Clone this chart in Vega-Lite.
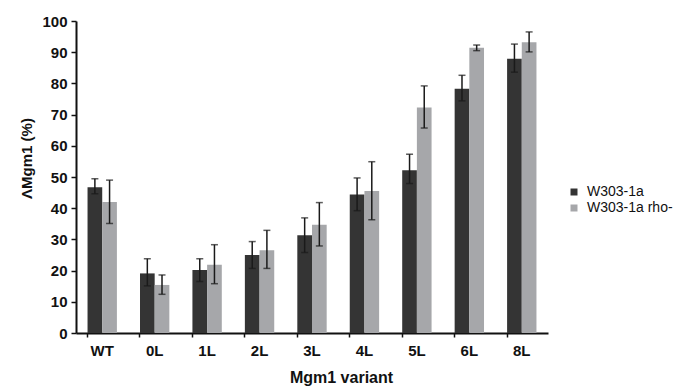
{
  "$schema": "https://vega.github.io/schema/vega-lite/v6.json",
  "width": 472,
  "height": 312,
  "autosize": "none",
  "padding": {"left": 76, "top": 21, "right": 128, "bottom": 55},
  "background": "white",
  "config": {
    "view": {"stroke": null},
    "font": "Liberation Sans",
    "axisY": {"tickCount": 10, "labelOverlap": false}
  },
  "data": {"values": [
    {"variant": "WT", "strain": "W303-1a", "value": 46.7, "lo": 44.6, "hi": 49.4},
    {"variant": "WT", "strain": "W303-1a rho-", "value": 42.0, "lo": 35.1, "hi": 49.0},
    {"variant": "0L", "strain": "W303-1a", "value": 19.1, "lo": 15.1, "hi": 23.8},
    {"variant": "0L", "strain": "W303-1a rho-", "value": 15.4, "lo": 12.4, "hi": 18.6},
    {"variant": "1L", "strain": "W303-1a", "value": 20.2, "lo": 16.5, "hi": 23.8},
    {"variant": "1L", "strain": "W303-1a rho-", "value": 21.9, "lo": 15.8, "hi": 28.3},
    {"variant": "2L", "strain": "W303-1a", "value": 25.0, "lo": 20.7, "hi": 29.3},
    {"variant": "2L", "strain": "W303-1a rho-", "value": 26.5, "lo": 20.7, "hi": 32.9},
    {"variant": "3L", "strain": "W303-1a", "value": 31.3, "lo": 25.8, "hi": 36.9},
    {"variant": "3L", "strain": "W303-1a rho-", "value": 34.7, "lo": 27.9, "hi": 41.8},
    {"variant": "4L", "strain": "W303-1a", "value": 44.4, "lo": 39.2, "hi": 49.7},
    {"variant": "4L", "strain": "W303-1a rho-", "value": 45.5, "lo": 36.3, "hi": 54.9},
    {"variant": "5L", "strain": "W303-1a", "value": 52.2, "lo": 47.9, "hi": 57.3},
    {"variant": "5L", "strain": "W303-1a rho-", "value": 72.3, "lo": 65.7, "hi": 79.2},
    {"variant": "6L", "strain": "W303-1a", "value": 78.3, "lo": 74.4, "hi": 82.6},
    {"variant": "6L", "strain": "W303-1a rho-", "value": 91.4, "lo": 90.5, "hi": 92.3},
    {"variant": "8L", "strain": "W303-1a", "value": 87.9, "lo": 83.6, "hi": 92.6},
    {"variant": "8L", "strain": "W303-1a rho-", "value": 93.2, "lo": 90.1, "hi": 96.5}
  ]},
  "encoding": {
    "x": {
      "field": "variant", "type": "nominal", "sort": null,
      "scale": {"paddingInner": 0.44, "paddingOuter": 0.22},
      "axis": {
        "title": "Mgm1 variant", "titleFont": "Liberation Sans", "titleFontSize": 16, "titleFontWeight": "bold",
        "titleColor": "#111111", "titlePadding": 11, "titleX": 265,
        "labelAngle": 0, "labelFont": "Liberation Sans", "labelFontSize": 15, "labelFontWeight": "bold",
        "labelColor": "#111111", "labelPadding": 6,
        "domainColor": "#111111", "domainWidth": 2,
        "ticks": true, "bandPosition": 0, "tickColor": "#111111", "tickSize": 4, "tickWidth": 1.5
      }
    },
    "xOffset": {"field": "strain", "type": "nominal"}
  },
  "layer": [
    {
      "mark": {"type": "bar"},
      "encoding": {
        "y": {
          "field": "value", "type": "quantitative",
          "scale": {"domain": [0, 100], "nice": false},
          "axis": {
            "title": "ΛMgm1 (%)", "titleFont": "Liberation Sans", "titleFontSize": 15, "titleFontWeight": "bold",
            "titleColor": "#111111", "titlePadding": 7, "titleY": 137,
            "labelFont": "Liberation Sans", "labelFontSize": 15, "labelFontWeight": "bold", "labelColor": "#111111",
            "labelPadding": 4, "grid": false,
            "domainColor": "#111111", "domainWidth": 2,
            "tickColor": "#111111", "tickSize": 5, "tickWidth": 1.5
          }
        },
        "color": {
          "field": "strain", "type": "nominal",
          "scale": {"domain": ["W303-1a", "W303-1a rho-"], "range": ["#343434", "#a6a7aa"]},
          "legend": {
            "title": null, "orient": "none", "legendX": 491, "legendY": 164,
            "symbolType": "square", "symbolSize": 49, "symbolStrokeWidth": 0,
            "labelFont": "Liberation Sans", "labelFontSize": 14, "labelColor": "#111111",
            "rowPadding": 2, "labelOffset": 6
          }
        }
      }
    },
    {
      "mark": {"type": "rule", "color": "#1a1a1a", "strokeWidth": 1.5},
      "encoding": {
        "y": {"field": "lo", "type": "quantitative"},
        "y2": {"field": "hi"}
      }
    },
    {
      "mark": {"type": "tick", "color": "#1a1a1a", "thickness": 1.5, "size": 7, "orient": "horizontal"},
      "encoding": {"y": {"field": "lo", "type": "quantitative"}}
    },
    {
      "mark": {"type": "tick", "color": "#1a1a1a", "thickness": 1.5, "size": 7, "orient": "horizontal"},
      "encoding": {"y": {"field": "hi", "type": "quantitative"}}
    }
  ]
}
